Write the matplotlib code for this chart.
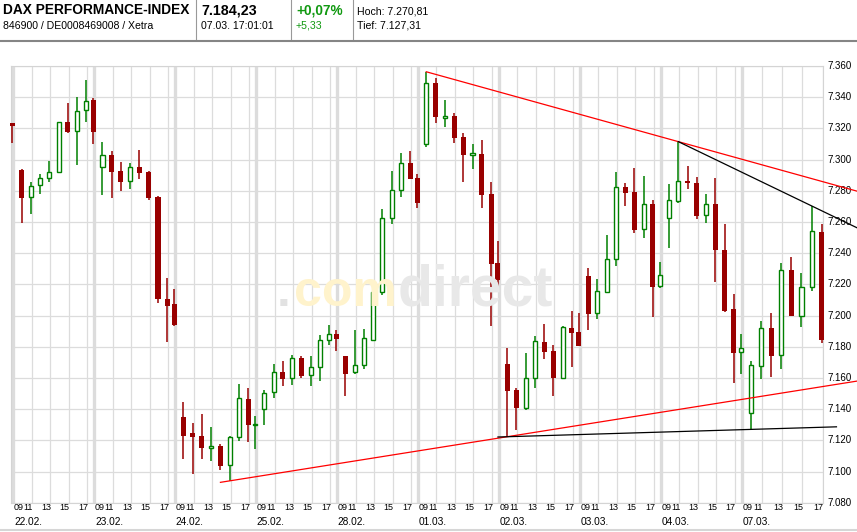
import matplotlib
matplotlib.use("Agg")
import matplotlib.pyplot as plt
from matplotlib.lines import Line2D

plt.rcParams['font.family'] = ['Liberation Sans', 'DejaVu Sans']

# trading days shown and the hourly candles of each day (09:00 .. 17:00)
days = ['22.02.', '23.02.', '24.02.', '25.02.', '28.02.',
        '01.03.', '02.03.', '03.03.', '04.03.', '07.03.']
sessions = [9, 10, 11, 12, 13, 14, 15, 16, 17]
hour_labels = ['09', '11', '13', '15', '17']
y_ticks = [7080, 7100, 7120, 7140, 7160, 7180, 7200, 7220, 7240,
           7260, 7280, 7300, 7320, 7340, 7360]

opens = [7323.6, 7293.3, 7275.8, 7283.5, 7288.0, 7291.8, 7323.9, 7318.2, 7331.6,
         7338.2, 7295.0, 7303.0, 7292.7, 7286.1, 7295.2, 7292.0, 7276.2, 7210.6,
         7207.4, 7135.1, 7124.7, 7123.0, 7115.2, 7116.5, 7104.0, 7121.9, 7146.7,
         7129.5, 7139.9, 7150.8, 7163.6, 7159.7, 7172.6, 7161.7, 7166.8, 7184.1,
         7188.2, 7174.2, 7163.6, 7168.1, 7184.3, 7214.9, 7262.6, 7280.5, 7297.6,
         7288.1, 7309.8, 7348.9, 7326.8, 7327.9, 7314.3, 7303.2, 7303.6, 7277.9,
         7233.9, 7168.9, 7152.3, 7140.5, 7159.7, 7183.0, 7177.2, 7160.1, 7191.8,
         7189.7, 7225.3, 7201.5, 7215.3, 7236.1, 7282.6, 7279.2, 7255.3, 7271.5,
         7219.0, 7262.3, 7273.6, 7286.3, 7285.2, 7264.3, 7271.5, 7242.0, 7204.2,
         7176.4, 7137.7, 7167.8, 7191.8, 7174.5, 7229.2, 7199.9, 7218.1, 7253.4]
highs = [7323.6, 7293.9, 7285.7, 7290.7, 7299.1, 7323.9, 7336.2, 7340.1, 7351.1,
         7339.3, 7311.3, 7305.5, 7298.5, 7297.8, 7306.1, 7292.7, 7276.8, 7224.2,
         7217.0, 7144.5, 7131.1, 7136.9, 7128.7, 7117.8, 7122.8, 7156.1, 7153.8,
         7135.6, 7152.3, 7168.9, 7170.9, 7174.6, 7173.9, 7173.9, 7187.4, 7193.7,
         7190.7, 7174.2, 7190.7, 7191.3, 7217.0, 7268.6, 7292.4, 7304.0, 7305.5,
         7290.5, 7356.3, 7352.2, 7338.2, 7330.1, 7317.3, 7310.0, 7312.6, 7285.5,
         7247.8, 7179.0, 7153.3, 7176.1, 7186.9, 7194.5, 7181.1, 7193.4, 7202.9,
         7201.5, 7230.3, 7223.4, 7251.6, 7291.8, 7285.2, 7294.4, 7289.4, 7274.0,
         7234.2, 7284.4, 7311.5, 7295.9, 7288.6, 7277.9, 7288.0, 7258.7, 7213.8,
         7188.0, 7171.1, 7196.5, 7201.8, 7233.9, 7237.8, 7227.4, 7270.3, 7258.7]
lows = [7310.8, 7259.5, 7265.1, 7278.1, 7285.9, 7291.8, 7317.3, 7296.7, 7324.3,
        7310.2, 7277.5, 7275.5, 7280.0, 7281.3, 7287.7, 7274.2, 7207.8, 7183.2,
        7193.5, 7108.1, 7098.6, 7108.1, 7106.9, 7101.0, 7094.0, 7119.8, 7119.1,
        7114.6, 7130.0, 7146.9, 7154.9, 7155.6, 7160.1, 7154.8, 7158.2, 7180.9,
        7177.4, 7148.6, 7162.7, 7165.7, 7183.7, 7212.9, 7258.6, 7276.2, 7287.5,
        7269.2, 7307.8, 7323.2, 7321.0, 7310.8, 7285.9, 7294.1, 7269.2, 7193.5,
        7215.9, 7122.3, 7126.6, 7139.5, 7153.8, 7172.2, 7148.6, 7159.7, 7167.2,
        7180.5, 7190.7, 7197.8, 7214.3, 7231.8, 7270.4, 7253.2, 7249.9, 7198.9,
        7217.9, 7243.5, 7272.3, 7281.0, 7261.9, 7259.5, 7221.7, 7202.5, 7157.0,
        7162.3, 7127.0, 7159.1, 7160.7, 7165.5, 7199.9, 7192.5, 7215.9, 7182.3]
closes = [7321.7, 7275.5, 7282.9, 7288.0, 7291.8, 7323.9, 7317.9, 7331.0, 7337.3,
          7317.9, 7302.8, 7292.2, 7285.9, 7295.0, 7291.6, 7275.5, 7210.4, 7206.3,
          7194.1, 7123.0, 7122.3, 7115.2, 7116.5, 7103.7, 7122.1, 7147.1, 7129.5,
          7130.2, 7150.1, 7163.6, 7159.5, 7172.6, 7161.4, 7166.8, 7184.1, 7188.0,
          7185.2, 7162.7, 7168.1, 7185.4, 7214.9, 7262.6, 7280.5, 7297.6, 7287.5,
          7272.3, 7348.9, 7327.1, 7327.9, 7314.0, 7303.0, 7303.8, 7277.5, 7233.3,
          7223.0, 7151.8, 7140.5, 7159.7, 7183.7, 7176.8, 7160.1, 7192.8, 7189.1,
          7180.5, 7201.0, 7215.7, 7236.3, 7282.2, 7278.8, 7254.9, 7271.3, 7218.5,
          7226.0, 7274.0, 7286.3, 7284.8, 7264.0, 7271.3, 7242.0, 7202.9, 7176.1,
          7179.0, 7168.3, 7191.8, 7174.2, 7229.2, 7199.9, 7218.1, 7254.2, 7184.2]

# trend lines: (anchor candle a, anchor candle b, price field, start candle, end x, colour)
trend_lines = [(46, 74, 'high', 46, 10.42, '#ff0000'),
               (74, 88, 'high', 74, 10.42, '#000000'),
               (24, 55, 'low', 23, 10.42, '#ff0000'),
               (55, 82, 'low', 54, 10.17, '#000000')]

# length of a day on the time axis (last day ends at 17:00)
day_len = [8.75] * 9 + [8.0]

W, H = 857, 532
fig = plt.figure(figsize=(W / 100, H / 100), dpi=100)
ax = fig.add_axes([11 / W, 1 - 502.7 / H, (822.7 - 11) / W, (502.7 - 66) / H])
ax.set_xlim(-0.028, 10.0)
ax.set_ylim(7080, 7360)
ax.set_xticks([])
ax.set_yticks([])
for s in ax.spines.values():
    s.set_color('#d4d4d4')
    s.set_linewidth(0.8)

# grid
for v in y_ticks:
    ax.axhline(v, color='#dcdcdc', lw=0.9, zorder=1)
xt = ax.get_xaxis_transform()
for d, day in enumerate(days):
    for k, lab in enumerate(hour_labels):
        gx = d + 2 * k / day_len[d]
        ax.axvline(gx, color='#dcdcdc', lw=2.4 if k == 0 else 0.9, zorder=1)
        if k == 0:
            ax.text(gx + 0.009, -0.012, lab, transform=xt, ha='left', va='center', fontsize=6.5)
        else:
            ax.text(gx + 0.012, -0.012, lab, transform=xt, ha='right', va='center', fontsize=6.5)
    ax.text(d + 0.009, -0.044, day, transform=xt, ha='left', va='center', fontsize=7.3)

yt = ax.get_yaxis_transform()
for v in y_ticks:
    ax.text(1.0053, v, f"{v / 1000:.3f}", transform=yt, ha='left', va='center', fontsize=7)

# watermark
fig.text(291 / W, 1 - 306 / H, '.', color='#e2e2e2', fontsize=36, fontweight='bold', ha='right', va='baseline', zorder=0)
fig.text(294 / W, 1 - 306 / H, 'com', color='#fff3cc', fontsize=36, fontweight='bold', ha='left', va='baseline', zorder=0)
fig.text(398 / W, 1 - 306 / H, 'direct', color='#e8e8e8', fontsize=41, fontweight='bold', ha='left', va='baseline', zorder=0)
ax.patch.set_alpha(0)

# candles
xs = []
for i in range(len(opens)):
    d = i // len(sessions)
    h = sessions[i % len(sessions)]
    xs.append(d + (h - 9) / day_len[d] - 0.012)

red, green = '#990000', '#008000'
for i, x in enumerate(xs):
    o, c = opens[i], closes[i]
    up = c >= o
    col = green if up else red
    ax.vlines(x, lows[i], highs[i], color=col, lw=1.1, zorder=3, clip_on=False)
    bot = min(o, c)
    hgt = max(abs(c - o), 0.8)
    if up:
        b = ax.bar(x, hgt, bottom=bot, width=0.05, facecolor='white', edgecolor=green, lw=1.0, zorder=4)
    else:
        b = ax.bar(x, hgt, bottom=bot, width=0.062, color=red, lw=0, zorder=4)
    for p in b:
        p.set_clip_on(False)

# trend lines
for a, b_, field, start, x_end, col in trend_lines:
    src = highs if field == 'high' else lows
    slope = (src[b_] - src[a]) / (xs[b_] - xs[a])
    x0 = xs[start]
    ax.plot([x0, x_end], [src[a] + slope * (x0 - xs[a]), src[a] + slope * (x_end - xs[a])],
            color=col, lw=0.9, zorder=5, clip_on=False)

# header
def fy(y):
    return 1 - y / H

fig.text(3 / W, fy(10.5), 'DAX PERFORMANCE-INDEX', fontsize=9.9, fontweight='bold', va='center')
fig.text(3 / W, fy(26), '846900 / DE0008469008 / Xetra', fontsize=7.6, va='center')
fig.text(201 / W, fy(10.5), '7.184,23', fontsize=10.3, fontweight='bold', va='center')
fig.text(201 / W, fy(26), '07.03. 17:01:01', fontsize=7.6, va='center')
fig.text(296 / W, fy(10.5), '+0,07%', fontsize=9.8, fontweight='bold', color='#119911', va='center')
fig.text(296 / W, fy(26), '+5,33', fontsize=7.6, color='#119911', va='center')
fig.text(357 / W, fy(11.5), 'Hoch: 7.270,81', fontsize=7.6, va='center')
fig.text(357 / W, fy(26), 'Tief: 7.127,31', fontsize=7.6, va='center')
for sx in [196.3, 291.3, 352.7]:
    fig.add_artist(Line2D([sx / W, sx / W], [fy(0), fy(38.5)], color='#999999', lw=0.8))
fig.add_artist(Line2D([0, 1], [fy(41.3), fy(41.3)], color='#858585', lw=1.5))
fig.add_artist(Line2D([0, 1], [fy(530), fy(530)], color='#d6d6d6', lw=1.5))

fig.savefig('out.png', dpi=100)
